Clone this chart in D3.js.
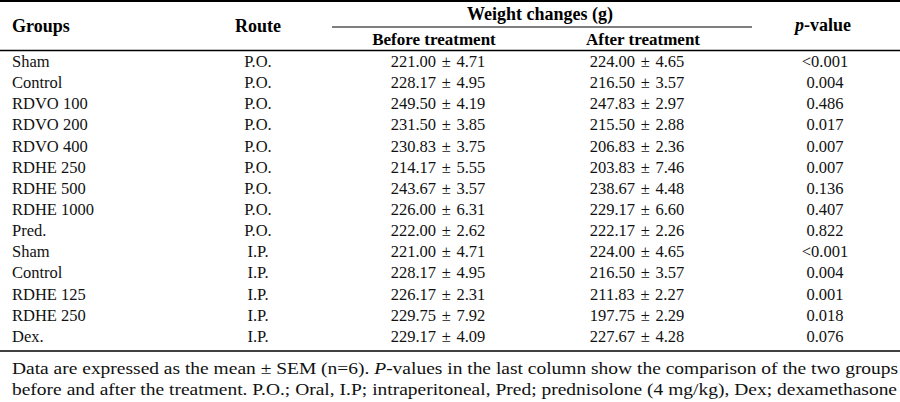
<!DOCTYPE html>
<html>
<head>
<meta charset="utf-8">
<script src="https://cdn.jsdelivr.net/npm/d3@7"></script>
<style>
  html, body { margin: 0; padding: 0; background: #fff; }
  svg { display: block; font-family: "Liberation Serif", "Times New Roman", serif; }
</style>
</head>
<body>
<div id="table"></div>
<script>
const width = 900;
const height = 402;

// table data
const groups = ["Sham", "Control", "RDVO 100", "RDVO 200", "RDVO 400", "RDHE 250", "RDHE 500",
  "RDHE 1000", "Pred.", "Sham", "Control", "RDHE 125", "RDHE 250", "Dex."];
const routes = ["P.O.", "P.O.", "P.O.", "P.O.", "P.O.", "P.O.", "P.O.", "P.O.", "P.O.",
  "I.P.", "I.P.", "I.P.", "I.P.", "I.P."];
const beforeMean = ["221.00", "228.17", "249.50", "231.50", "230.83", "214.17", "243.67",
  "226.00", "222.00", "221.00", "228.17", "226.17", "229.75", "229.17"];
const beforeSem = ["4.71", "4.95", "4.19", "3.85", "3.75", "5.55", "3.57",
  "6.31", "2.62", "4.71", "4.95", "2.31", "7.92", "4.09"];
const afterMean = ["224.00", "216.50", "247.83", "215.50", "206.83", "203.83", "238.67",
  "229.17", "222.17", "224.00", "216.50", "211.83", "197.75", "227.67"];
const afterSem = ["4.65", "3.57", "2.97", "2.88", "2.36", "7.46", "4.48",
  "6.60", "2.26", "4.65", "3.57", "2.27", "2.29", "4.28"];
const pValues = ["<0.001", "0.004", "0.486", "0.017", "0.007", "0.007", "0.136",
  "0.407", "0.822", "<0.001", "0.004", "0.001", "0.018", "0.076"];

const footnote = [
  [["Data are expressed as the mean ± SEM (n=6). ", false], ["P", true],
   ["-values in the last column show the comparison of the two groups", false]],
  [["before and after the treatment. P.O.; Oral, I.P; intraperitoneal, Pred; prednisolone (4 mg/kg), Dex; dexamethasone", false]]
];

const rows = groups.map((g, i) => ({
  group: g,
  route: routes[i],
  before: beforeMean[i] + " ± " + beforeSem[i],
  after: afterMean[i] + " ± " + afterSem[i],
  p: pValues[i]
}));

const svg = d3.select("#table")
  .append("svg")
  .attr("width", width)
  .attr("height", height);

// column positions
const colX = { group: 12, route: 258, before: 438, after: 637, p: 825 };

const y = d3.scaleBand()
  .domain(d3.range(rows.length))
  .range([51.5, 347.5]);

// rules
const rule = (x1, x2, yy, w) => svg.append("line")
  .attr("x1", x1).attr("x2", x2).attr("y1", yy).attr("y2", yy)
  .attr("stroke", "#000").attr("stroke-width", w);

rule(0, width, 1, 2);
rule(332, 752, 27, 1.2);
rule(0, width, 50.5, 1.5);
rule(0, width, 351, 1.5);

// header
const head = svg.append("g")
  .attr("font-weight", "bold")
  .attr("font-size", "18px");

head.append("text").attr("x", colX.group).attr("y", 32).text("Groups");
head.append("text").attr("x", colX.route).attr("y", 32).attr("text-anchor", "middle").text("Route");
head.append("text").attr("x", 540).attr("y", 20).attr("text-anchor", "middle").text("Weight changes (g)");
head.append("text").attr("x", 434).attr("y", 45).attr("text-anchor", "middle")
  .attr("font-size", "17px").text("Before treatment");
head.append("text").attr("x", 643).attr("y", 45).attr("text-anchor", "middle")
  .attr("font-size", "17px").text("After treatment");
const pv = head.append("text").attr("x", 823).attr("y", 31).attr("text-anchor", "middle");
pv.append("tspan").attr("font-style", "italic").text("p");
pv.append("tspan").text("-value");

// body rows
const body = svg.append("g").attr("font-size", "16.5px").attr("fill", "#111");

const rowG = body.selectAll("g.row")
  .data(rows)
  .enter()
  .append("g")
  .attr("class", "row")
  .attr("transform", (d, i) => `translate(0,${y(i) + 15.5})`);

rowG.append("text").attr("x", colX.group).text(d => d.group);
rowG.append("text").attr("x", colX.route).attr("text-anchor", "middle").text(d => d.route);
rowG.append("text").attr("x", colX.before).attr("text-anchor", "middle")
  .attr("word-spacing", 1.5).text(d => d.before);
rowG.append("text").attr("x", colX.after).attr("text-anchor", "middle")
  .attr("word-spacing", 1.5).text(d => d.after);
rowG.append("text").attr("x", colX.p).attr("text-anchor", "middle").text(d => d.p);

// footnote: the caption runs a little wider than plain Times, stretch it to the edge
const note = svg.append("g").attr("font-size", "17px").attr("fill", "#111");
const probe = note.append("text").text(footnote[1][0][0]);
const sx = (897 - 12) / probe.node().getComputedTextLength();
probe.remove();

const lineEnd = [892, 897];
footnote.forEach((parts, i) => {
  const t = note.append("text")
    .attr("transform", `translate(12,${374 + i * 21}) scale(${sx},1)`);
  parts.forEach(([s, it]) => {
    const ts = t.append("tspan").text(s);
    if (it) ts.attr("font-style", "italic");
  });
  const len = t.node().getComputedTextLength();
  const spaces = parts.map(p => p[0]).join("").split(" ").length - 1;
  const extra = ((lineEnd[i] - 12) / sx - len) / spaces;
  if (extra > 0.05) t.attr("word-spacing", extra.toFixed(2));
});
</script>
</body>
</html>
